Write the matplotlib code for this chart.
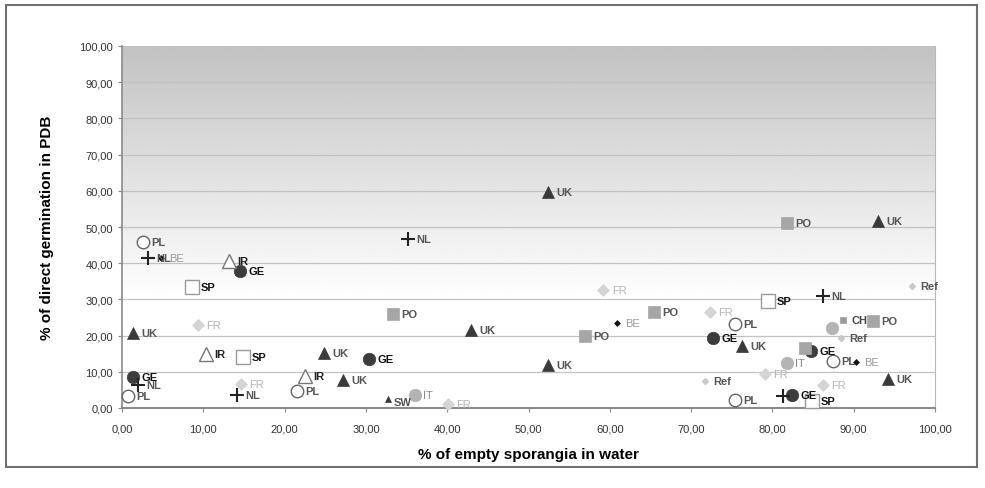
import numpy as np
import matplotlib
matplotlib.use("Agg")
import matplotlib.pyplot as plt
from matplotlib.patches import Rectangle

plt.rcParams['font.family'] = ['Liberation Sans', 'DejaVu Sans']

# ---- data (x: % empty sporangia in water, y: % direct germination in PDB)
uk_x = [52.4, 93.0, 1.4, 24.8, 42.9, 27.2, 52.4, 76.3, 94.2]
uk_y = [59.6, 51.6, 20.6, 15.2, 21.5, 7.6, 11.8, 17.0, 8.0]
sw_x = [32.7]
sw_y = [2.5]
pl_x = [2.6, 0.7, 21.5, 75.4, 75.4, 87.5]
pl_y = [45.9, 3.3, 4.7, 23.2, 2.2, 12.9]
nl_x = [3.2, 35.2, 2.0, 14.1, 86.2, 81.3]
nl_y = [41.3, 46.6, 6.3, 3.6, 31.0, 3.4]
nl_lab = ['NL', 'NL', 'NL', 'NL', 'NL', '']
ir_x = [13.2, 10.3, 22.5]
ir_y = [40.6, 14.9, 8.8]
ge_x = [14.5, 1.4, 30.4, 72.7, 84.8, 82.4]
ge_y = [37.8, 8.6, 13.6, 19.3, 15.8, 3.6]
sp_x = [8.6, 14.9, 79.5, 84.9]
sp_y = [33.4, 14.1, 29.6, 1.9]
fr_x = [9.3, 59.2, 72.3, 79.1, 86.2, 40.1, 14.6]
fr_y = [22.8, 32.6, 26.5, 9.4, 6.4, 1.1, 6.6]
po_x = [33.3, 57.0, 65.4, 81.8, 92.4, 84.0]
po_y = [26.0, 19.8, 26.6, 51.2, 24.0, 16.6]
po_lab = ['PO', 'PO', 'PO', 'PO', 'PO', '']
it_x = [36.0, 81.8, 87.3]
it_y = [3.6, 12.4, 22.0]
it_lab = ['IT', 'IT', '']
be_x = [60.9, 90.3, 4.8]
be_y = [23.5, 12.8, 41.3]
ref_x = [97.2, 71.7, 88.4]
ref_y = [33.6, 7.5, 19.2]
ch_x = [88.7]
ch_y = [24.2]

x_ticks = [0, 10, 20, 30, 40, 50, 60, 70, 80, 90, 100]
y_ticks = [0, 10, 20, 30, 40, 50, 60, 70, 80, 90, 100]

fig = plt.figure(figsize=(9.85, 4.89), dpi=100)
fig.patch.set_facecolor('white')
# outer frame
fig.patches.append(Rectangle((6/985, 1-468/489), 971/985, 462/489, transform=fig.transFigure,
                             fill=False, edgecolor='#707070', linewidth=1.5))

ax = fig.add_axes([122/985, 1-409/489, 813/985, 362/489])
ax.set_xlim(0, 100)
ax.set_ylim(0, 100)

# gradient background
yy = np.linspace(0, 100, 400)
t = np.clip((yy - 30) / 70.0, 0, 1)
val = 1.0 - t * (1.0 - 0.76)
grad = np.repeat(val[:, None], 2, axis=1)
ax.imshow(grad, extent=[0, 100, 0, 100], origin='lower', aspect='auto', cmap='gray',
          vmin=0, vmax=1, zorder=0, interpolation='bilinear')

for yv in y_ticks[1:]:
    ax.axhline(yv, color='#c2c2c2', lw=0.9, zorder=1)

ax.spines['top'].set_visible(False)
ax.spines['left'].set_color('#8a8a8a')
ax.spines['bottom'].set_color('#8a8a8a')
ax.spines['right'].set_color('#b8b8b8')
ax.spines['left'].set_linewidth(1.2)
ax.spines['bottom'].set_linewidth(1.5)

ax.set_xticks(x_ticks)
ax.set_yticks(y_ticks)
ax.set_xticklabels([f"{v:.2f}".replace('.', ',') for v in x_ticks])
ax.set_yticklabels([f"{v:.2f}".replace('.', ',') for v in y_ticks])
ax.tick_params(axis='both', labelsize=8, colors='#8a8a8a', labelcolor='#333333', length=3)
ax.tick_params(axis='x', pad=8)

ax.set_xlabel('% of empty sporangia in water', fontsize=11, fontweight='bold', labelpad=10)
ax.set_ylabel('% of direct germination in PDB', fontsize=11, fontweight='bold', labelpad=18)


def plot_group(xs, ys, labels, marker, ms, mfc, mec, mew, tcolor, tweight='bold', dx=6, dy=0, z=3):
    ax.plot(xs, ys, linestyle='none', marker=marker, markersize=ms, markerfacecolor=mfc,
            markeredgecolor=mec, markeredgewidth=mew, zorder=z, clip_on=False)
    if isinstance(labels, str):
        labels = [labels] * len(xs)
    for x, y, lab in zip(xs, ys, labels):
        if lab:
            ax.annotate(lab, (x, y), xytext=(dx, dy), textcoords='offset points', va='center',
                        ha='left', fontsize=8, fontweight=tweight, color=tcolor, zorder=z + 1)


plot_group(fr_x, fr_y, 'FR', 'D', 6, '#d4d4d4', '#d4d4d4', 0.5, '#b5b5b5', tweight='normal')
plot_group(ref_x, ref_y, 'Ref', 'D', 3.5, '#c8c8c8', '#c8c8c8', 0.5, '#555555')
plot_group(be_x, be_y, 'BE', 'D', 3, '#111111', '#111111', 0.5, '#9a9a9a', tweight='normal')
plot_group(it_x, it_y, it_lab, 'o', 9, '#b4b4b4', '#b4b4b4', 0.5, '#8a8a8a', tweight='normal')
plot_group(ge_x, ge_y, 'GE', 'o', 9, '#3c3c3c', '#3c3c3c', 0.5, '#111111')
plot_group(po_x, po_y, po_lab, 's', 9, '#a6a6a6', '#a6a6a6', 0.5, '#555555')
plot_group(ch_x, ch_y, 'CH', 's', 5, '#9a9a9a', '#9a9a9a', 0.5, '#444444')
plot_group(uk_x, uk_y, 'UK', '^', 9, '#3a3a3a', '#3a3a3a', 0.5, '#555555')
plot_group(sw_x, sw_y, 'SW', '^', 4, '#3a3a3a', '#3a3a3a', 0.5, '#555555', dx=4, dy=-2)
plot_group(pl_x, pl_y, 'PL', 'o', 9, 'white', '#666666', 1.0, '#555555')
plot_group(ir_x, ir_y, 'IR', '^', 10, 'white', '#777777', 1.0, '#222222')
plot_group(sp_x, sp_y, 'SP', 's', 10, 'white', '#9a9a9a', 1.0, '#111111')
plot_group(nl_x, nl_y, nl_lab, '+', 10, 'none', '#222222', 1.5, '#555555')

fig.savefig('out.png', dpi=100, facecolor='white')
